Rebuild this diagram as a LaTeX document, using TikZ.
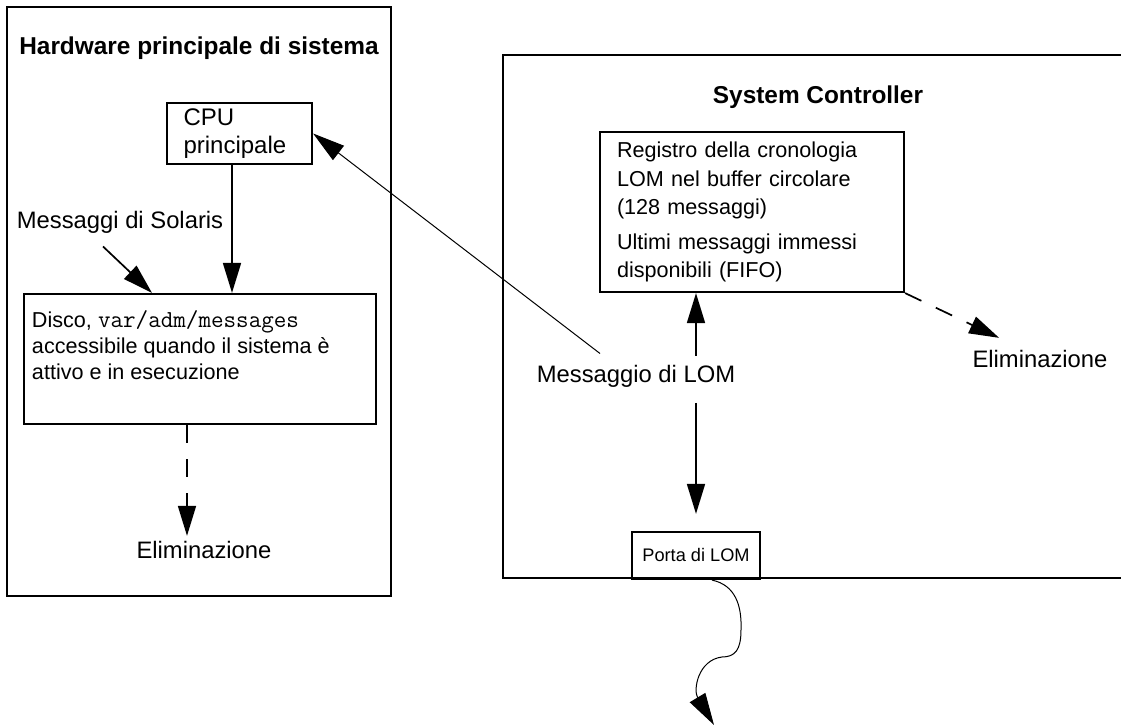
\documentclass[tikz,border=0pt]{standalone}
\usepackage{fontspec}
\setmainfont{Liberation Sans}
\usetikzlibrary{arrows.meta}
\tikzset{
	frame/.style={line width=1.1pt},
	box/.style={draw,line width=1.1pt,inner sep=0pt},
	lbl/.style={font=\fontsize{11.9}{14}\selectfont,inner sep=0pt},
	ttl/.style={font=\fontsize{12.2}{14}\selectfont\bfseries,inner sep=0pt},
	arr/.style={line width=0.85pt,-{Triangle[length=15pt,width=9pt]}},
	thinarr/.style={line width=0.5pt,-{Triangle[length=16pt,width=9pt]}},
	dasharr/.style={arr,dash pattern=on 9pt off 8pt},
}
\begin{document}
\begin{tikzpicture}[x=0.5pt,y=-0.5pt]
		\useasboundingbox (0,0) rectangle (1121,726);
		% main hardware
		\draw[frame] (7,7) rectangle (391,596);
		\node[ttl] (hwtitle) at (199,48) {Hardware principale di sistema};
		\node[box,minimum width=72.5pt,minimum height=30.5pt,inner xsep=8pt,text width=56pt,align=left,font=\fontsize{12}{14}\selectfont] (cpu) at (239.5,133.5) {CPU\\principale};
		\node[lbl] (sol) at (120,222) {Messaggi di Solaris};
		\node[box,minimum width=176pt,minimum height=65pt] (disk) at (200,359) {\parbox[c][65pt][t]{168pt}{\raggedright\fontsize{10.8}{13}\selectfont\vspace*{8.4pt}Disco, {\fontsize{12.2}{13}\selectfont\ttfamily var/adm/messages}\\accessibile quando il sistema è\\attivo e in esecuzione}};
		\node[lbl] (elimhw) at (204,550) {Eliminazione};
		% system controller
		\draw[frame] (1130,55) -- (503,55) -- (503,578) -- (1130,578);
		\node[ttl] (sctitle) at (818,97) {System Controller};
		\node[box,minimum width=152pt,minimum height=80pt,inner xsep=8.5pt,text width=135pt,align=left,font=\fontsize{10.8}{14.25}\selectfont] (reg) at (752,212) {Registro della cronologia\\LOM nel buffer circolare\\(128 messaggi)\\[3pt]Ultimi messaggi immessi\\disponibili (FIFO)};
		\node[box,minimum width=64pt,minimum height=23.5pt,font=\fontsize{9.1}{11}\selectfont] (porta) at (696,555.5) {Porta di LOM};
		\node[lbl] (lom) at (636,376) {Messaggio di LOM};
		\node[lbl] (elimsc) at (1040,359) {Eliminazione};
		\coordinate (lomup) at (696,356);
		\coordinate (lomdown) at (696,403);
		\coordinate (out) at (714,725);
		% arrows
		\draw[arr] ([xshift=-3.75pt]cpu.south) -- ([xshift=-3.75pt]cpu.south |- disk.north);
		\draw[arr] ([xshift=-8.5pt,yshift=-6.5pt]sol.south) -- ([xshift=-24pt]disk.north);
		\draw[dasharr,shorten >=2.5pt] ([xshift=-6.5pt]disk.south) -- ([xshift=-6.5pt]disk.south |- elimhw.north);
		\draw[thinarr] ([xshift=-18pt,yshift=5.5pt]lom.north) -- (cpu.east);
		\draw[arr] (lomup) -- (lomup |- reg.south);
		\draw[arr,shorten >=8.5pt] (lomdown) -- (porta.north);
		\draw[dasharr] (reg.south east) -- ([xshift=13.5pt,yshift=6pt]elimsc.north west);
		\draw[thinarr] ([xshift=8pt]porta.south) .. controls (735,585) and (742,605) .. (741,630) .. controls (741,650) and (735,657) .. (722,657) .. controls (698,660) and (693,690) .. (out);
\end{tikzpicture}
\end{document}
